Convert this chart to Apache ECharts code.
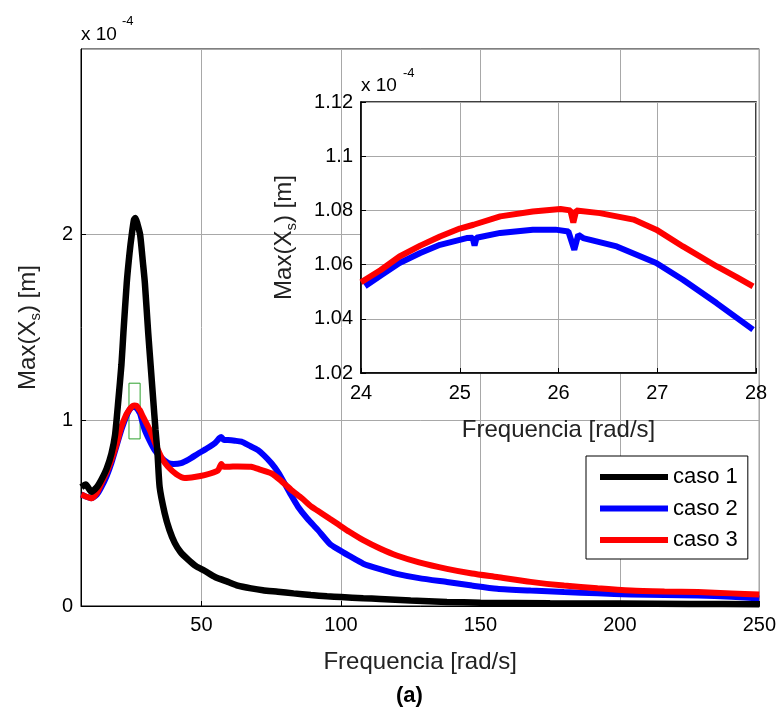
<!DOCTYPE html>
<html><head><meta charset="utf-8">
<script src="https://cdn.jsdelivr.net/npm/echarts@6/dist/echarts.min.js"></script>
<style>html,body{margin:0;padding:0;background:#fff}#c{width:779px;height:711px}</style>
</head><body><div id="c"></div>
<script>
// ---- data (amplitudes in units of 1e-4 m) ----
const freq1 = [6.9,8.5,10.5,12.5,14.1,16,17.7,19,20.2,21.3,22.0,23.2,24.2,25.0,25.8,26.3,27.0,28.0,29.0,29.7,30.9,32.0,32.7,33.5,34.2,35.0,36.8,38.5,40.4,42.5,45.2,48,51.1,55,59.5,63,67.8,72,77.4,83,89.2,95,100,108,114,125,138,150,175,200,225,250];
const caso1 = [0.64,0.655,0.615,0.64,0.68,0.74,0.82,0.92,1.11,1.30,1.47,1.74,1.90,2.00,2.08,2.09,2.06,2.00,1.85,1.74,1.47,1.25,1.11,0.95,0.83,0.64,0.50,0.41,0.34,0.29,0.25,0.215,0.19,0.155,0.13,0.11,0.095,0.085,0.077,0.068,0.059,0.052,0.048,0.042,0.038,0.030,0.022,0.018,0.015,0.013,0.011,0.010];

const freq2 = [6.9,8.5,10.5,12.5,14.1,16,17.7,19.5,21.3,23,24,24.4,24.8,25.4,26.0,26.6,27.0,27.3,27.6,28.0,29.6,31.4,33.2,35.5,38.0,40,42.7,45.5,48.7,51.5,54.7,56.5,57.1,58,59.5,62,64.3,67,70.2,72.5,75.0,77.5,79.8,82,84.6,88,91.7,96,99,103,108,114,120,128,138,147,156,168,180,192,204,216,228,240,250];
const caso2 = [0.60,0.59,0.58,0.60,0.64,0.70,0.77,0.86,0.95,1.02,1.052,1.061,1.067,1.072,1.073,1.067,1.061,1.054,1.046,1.036,0.95,0.89,0.84,0.80,0.77,0.765,0.77,0.79,0.82,0.845,0.876,0.905,0.91,0.895,0.894,0.89,0.885,0.865,0.84,0.81,0.77,0.72,0.66,0.60,0.535,0.47,0.41,0.335,0.305,0.27,0.228,0.198,0.173,0.15,0.129,0.11,0.093,0.083,0.075,0.068,0.062,0.059,0.057,0.05,0.04];

const freq3 = [6.9,8.5,10.5,12.5,14.1,16,17.7,19.5,21.3,23,24,24.4,24.8,25.4,26.0,26.4,26.8,27.0,27.3,27.6,28.0,29.0,31.4,34.4,36,38.0,41,44.0,47.5,51.1,55.9,57.1,58,59.5,63,67.8,71,75.0,78.5,82.2,86,89.4,93,96,99,103,108,114,120,128,138,147,156,168,180,192,204,216,228,240,250];
const caso3 = [0.60,0.59,0.58,0.61,0.66,0.72,0.786,0.87,0.966,1.03,1.054,1.063,1.070,1.078,1.080,1.079,1.077,1.073,1.067,1.059,1.052,1.02,0.95,0.84,0.79,0.75,0.71,0.69,0.695,0.705,0.73,0.765,0.75,0.75,0.752,0.75,0.735,0.715,0.675,0.625,0.58,0.535,0.50,0.47,0.44,0.40,0.355,0.31,0.272,0.235,0.20,0.175,0.156,0.13,0.11,0.095,0.083,0.078,0.075,0.068,0.062];

// inset (zoom 24-28 rad/s)
const insetFreq2 = [24.04,24.2,24.39,24.6,24.8,25.07,25.13,25.15,25.17,25.41,25.74,25.97,26.1,26.16,26.2,26.25,26.59,26.99,27.26,27.6,27.97];
const insetCaso2 = [1.052,1.056,1.0606,1.0643,1.0673,1.0698,1.0699,1.0670,1.0699,1.0717,1.0729,1.0729,1.0722,1.0655,1.0710,1.0698,1.0667,1.0606,1.0544,1.0458,1.036];
const insetFreq3 = [24.0,24.2,24.39,24.6,24.8,25.0,25.14,25.41,25.74,26.02,26.12,26.15,26.18,26.42,26.76,26.99,27.26,27.6,27.8,27.97];
const insetCaso3 = [1.0535,1.058,1.063,1.067,1.0704,1.0733,1.0747,1.0778,1.0796,1.0805,1.0800,1.0755,1.0800,1.079,1.0766,1.0729,1.0667,1.0594,1.0555,1.052];

const zoomBoxFreq = [24, 28];
const zoomBoxAmp = [0.9, 1.2];
const seriesNames = ['caso 1', 'caso 2', 'caso 3'];
const seriesColors = ['#000000', '#0000ff', '#ff0000'];

// ---- chart ----
const FONT = "'Liberation Sans', Arial, sans-serif";
const pairs = (xs, ys) => xs.map((x, i) => [x, ys[i]]);
const chart = echarts.init(document.getElementById('c'), null, {renderer: 'canvas'});

const yName = 'Max(X{sub|s}) [m]';
const nameStyle = {fontSize: 24, color: '#222', fontFamily: FONT, rich: {sub: {fontSize: 15, color: '#222', fontFamily: FONT, padding: [14, 0, 0, 0]}}};
const tickLbl = {fontSize: 20, color: '#000', fontFamily: FONT};

const option = {
  animation: false,
  backgroundColor: '#fff',
  grid: [
    {left: 81, top: 49, width: 679, height: 557, show: true, borderColor: '#000', borderWidth: 1, backgroundColor: 'transparent'},
    {left: 361, top: 102, width: 395, height: 271, show: true, borderColor: '#000', borderWidth: 1.5, backgroundColor: '#fff', z: 5}
  ],
  xAxis: [
    {gridIndex: 0, type: 'value', min: 6.8, max: 250, splitNumber: 5,
     axisLine: {lineStyle: {color: '#000'}}, axisTick: {inside: true, length: 5, lineStyle: {color: '#000'}},
     axisLabel: Object.assign({margin: 9, showMinLabel: false, formatter: v => (Math.abs(v % 50) < 1e-6 ? String(v) : '')}, tickLbl),
     splitLine: {show: true, lineStyle: {color: '#a8a8a8', width: 1}},
     name: 'Frequencia [rad/s]', nameLocation: 'middle', nameGap: 44, nameTextStyle: {fontSize: 24, color: '#222', fontFamily: FONT}},
    {gridIndex: 1, type: 'value', min: 24, max: 28, interval: 1, z: 6,
     axisLine: {lineStyle: {color: '#000', width: 1.5}}, axisTick: {inside: true, length: 5, lineStyle: {color: '#000'}},
     axisLabel: Object.assign({margin: 10}, tickLbl),
     splitLine: {show: true, lineStyle: {color: '#a8a8a8', width: 1}},
     name: 'Frequencia [rad/s]', nameLocation: 'middle', nameGap: 45, nameTextStyle: {fontSize: 24, color: '#222', fontFamily: FONT}}
  ],
  yAxis: [
    {gridIndex: 0, type: 'value', min: 0, max: 3, interval: 1,
     axisLine: {show: true, lineStyle: {color: '#000'}}, axisTick: {show: true, inside: true, length: 5, lineStyle: {color: '#000'}},
     axisLabel: Object.assign({margin: 8, showMaxLabel: false}, tickLbl),
     splitLine: {show: true, lineStyle: {color: '#a8a8a8', width: 1}},
     name: yName, nameLocation: 'middle', nameGap: 38, nameRotate: 90, nameTextStyle: nameStyle},
    {gridIndex: 1, type: 'value', min: 1.02, max: 1.12, interval: 0.02, z: 6,
     axisLine: {show: true, lineStyle: {color: '#000', width: 1.5}}, axisTick: {show: true, inside: true, length: 5, lineStyle: {color: '#000'}},
     axisLabel: Object.assign({margin: 8, formatter: v => String(+v.toFixed(2))}, tickLbl),
     splitLine: {show: true, lineStyle: {color: '#a8a8a8', width: 1}},
     name: yName, nameLocation: 'middle', nameGap: 62, nameRotate: 90, nameTextStyle: nameStyle}
  ],
  legend: {
    data: seriesNames, orient: 'vertical', left: 586, top: 456, icon: 'rect',
    itemWidth: 68, itemHeight: 6, itemGap: 9.5, padding: [10, 10, 8, 14],
    backgroundColor: '#fff', borderColor: '#000', borderWidth: 1, borderRadius: 0,
    textStyle: {fontSize: 22, lineHeight: 22, color: '#000', fontFamily: FONT}
  },
  series: [
    {name: seriesNames[0], type: 'line', xAxisIndex: 0, yAxisIndex: 0, data: pairs(freq1, caso1), showSymbol: false, smooth: 0.2,
     color: seriesColors[0], lineStyle: {width: 6.5, color: seriesColors[0]}, z: 3,
     markArea: {silent: true, itemStyle: {color: 'rgba(0,0,0,0)', borderColor: '#2ca02c', borderWidth: 1},
       data: [[{coord: [zoomBoxFreq[0], zoomBoxAmp[0]]}, {coord: [zoomBoxFreq[1], zoomBoxAmp[1]]}]]}},
    {name: seriesNames[1], type: 'line', xAxisIndex: 0, yAxisIndex: 0, data: pairs(freq2, caso2), showSymbol: false, smooth: 0.2,
     color: seriesColors[1], lineStyle: {width: 6, color: seriesColors[1]}, z: 2},
    {name: seriesNames[2], type: 'line', xAxisIndex: 0, yAxisIndex: 0, data: pairs(freq3, caso3), showSymbol: false, smooth: 0.2,
     color: seriesColors[2], lineStyle: {width: 6, color: seriesColors[2]}, z: 2},
    {name: seriesNames[1], type: 'line', xAxisIndex: 1, yAxisIndex: 1, data: pairs(insetFreq2, insetCaso2), showSymbol: false,
     color: seriesColors[1], lineStyle: {width: 6, color: seriesColors[1]}, z: 8},
    {name: seriesNames[2], type: 'line', xAxisIndex: 1, yAxisIndex: 1, data: pairs(insetFreq3, insetCaso3), showSymbol: false,
     color: seriesColors[2], lineStyle: {width: 6, color: seriesColors[2]}, z: 8}
  ],
  graphic: [
    {type: 'text', left: 81, top: 25, style: {text: 'x 10', fontSize: 19, fill: '#000', fontFamily: FONT}},
    {type: 'text', left: 122, top: 15, style: {text: '-4', fontSize: 13, fill: '#000', fontFamily: FONT}},
    {type: 'text', left: 361, top: 76, z: 10, style: {text: 'x 10', fontSize: 19, fill: '#000', fontFamily: FONT}},
    {type: 'text', left: 403, top: 67, z: 10, style: {text: '-4', fontSize: 13, fill: '#000', fontFamily: FONT}},
    {type: 'text', left: 396, top: 685, style: {text: '(a)', fontSize: 22, fontWeight: 'bold', fill: '#000', fontFamily: FONT}}
  ]
};
chart.setOption(option);
</script></body></html>
